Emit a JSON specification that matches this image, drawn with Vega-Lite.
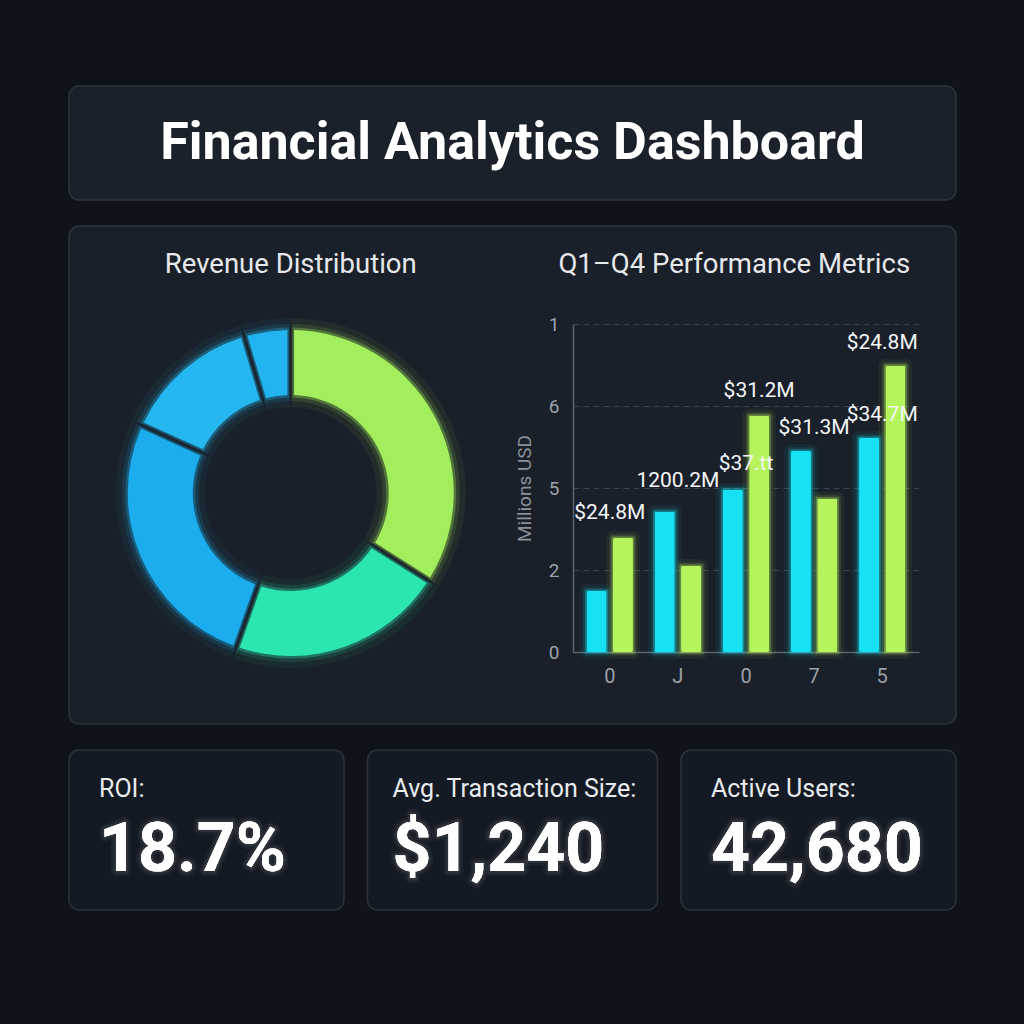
{
  "$schema": "https://vega.github.io/schema/vega-lite/v6.json",
  "background": "#0f141b",
  "padding": {"left": 68, "top": 85, "right": 69, "bottom": 115},
  "config": {
    "font": "Roboto",
    "view": {"stroke": null},
    "axis": {"labelFont": "Roboto", "titleFont": "Roboto"}
  },
  "bounds": "flush",
  "spacing": 26,
  "vconcat": [
    {
      "width": 887,
      "height": 114,
      "view": {"fill": "#1b212b", "stroke": "#2c333d", "strokeWidth": 1.5, "cornerRadius": 10},
      "data": {"values": [{"title": "Financial Analytics Dashboard"}]},
      "mark": {"type": "text", "fontSize": 52, "fontWeight": "bold", "color": "#ffffff", "baseline": "middle", "align": "center"},
      "encoding": {"text": {"field": "title", "type": "nominal"}}
    },
    {
      "width": 887,
      "height": 498,
      "view": {"fill": "#1a2029", "stroke": "#2c333d", "strokeWidth": 1.5, "cornerRadius": 10},
      "resolve": {
        "scale": {"x": "independent", "y": "independent", "color": "independent", "xOffset": "independent"},
        "axis": {"x": "independent", "y": "independent"}
      },
      "layer": [
        {
          "layer": [
            {
              "data": {"values": [
                {"segment": "Segment 1", "share": 34.0, "idx": 1},
                {"segment": "Segment 2", "share": 21.4, "idx": 2},
                {"segment": "Segment 3", "share": 26.4, "idx": 3},
                {"segment": "Segment 4", "share": 13.6, "idx": 4},
                {"segment": "Segment 5", "share": 4.6, "idx": 5}
              ]},
              "encoding": {
                "x": {"datum": "Revenue Distribution", "type": "nominal",
                  "scale": {"type": "point", "domain": ["Revenue Distribution", "Q1–Q4 Performance Metrics"], "padding": 0.5}, "axis": null},
                "y": {"datum": "chart", "type": "nominal",
                  "scale": {"type": "point", "domain": ["heading", "chart"], "padding": 0.59, "align": 0.143}, "axis": null},
                "theta": {"field": "share", "type": "quantitative", "stack": true},
                "order": {"field": "idx", "type": "quantitative"},
                "color": {"field": "segment", "type": "nominal", "legend": null,
                  "scale": {"domain": ["Segment 1", "Segment 2", "Segment 3", "Segment 4", "Segment 5"],
                            "range": ["#a3ee5c", "#2ce6b2", "#1cadee", "#25b7f0", "#21b4f0"]}}
              },
              "layer": [
                {"mark": {"type": "arc", "innerRadius": 86, "outerRadius": 175, "padAngle": 0.005, "opacity": 0.06}},
                {"mark": {"type": "arc", "innerRadius": 92, "outerRadius": 169, "padAngle": 0.01, "opacity": 0.12}},
                {"mark": {"type": "arc", "innerRadius": 95.5, "outerRadius": 165.5, "padAngle": 0.02, "opacity": 0.3}},
                {"mark": {"type": "arc", "innerRadius": 98, "outerRadius": 163, "padAngle": 0.035}}
              ]
            },
            {
              "data": {"values": [
                {"section": "Revenue Distribution", "row": "heading"},
                {"section": "Q1–Q4 Performance Metrics", "row": "heading"}
              ]},
              "mark": {"type": "text", "fontSize": 27.5, "color": "#e6e8eb", "baseline": "middle", "align": "center"},
              "encoding": {
                "x": {"field": "section", "type": "nominal"},
                "y": {"field": "row", "type": "nominal"},
                "text": {"field": "section", "type": "nominal"}
              }
            }
          ]
        },
        {
          "layer": [
            {
              "data": {"values": [
                {"group": "1", "series": "A", "value": 1.49},
                {"group": "1", "series": "B", "value": 2.78},
                {"group": "2", "series": "A", "value": 3.42},
                {"group": "2", "series": "B", "value": 2.10},
                {"group": "3", "series": "A", "value": 3.96},
                {"group": "3", "series": "B", "value": 5.76},
                {"group": "4", "series": "A", "value": 4.90},
                {"group": "4", "series": "B", "value": 3.74},
                {"group": "5", "series": "A", "value": 5.22},
                {"group": "5", "series": "B", "value": 6.98}
              ]},
              "encoding": {
                "x": {"field": "group", "type": "nominal",
                  "scale": {"domain": ["1", "2", "3", "4", "5"], "range": [504, 850], "paddingInner": 0.32, "paddingOuter": 0.2},
                  "axis": {"orient": "bottom", "offset": -72, "title": null, "labelAngle": 0, "domain": true, "domainColor": "#5a626c", "domainWidth": 1.5, "ticks": false,
                           "labelFontSize": 20, "labelColor": "#9aa1a9", "labelPadding": 14,
                           "labelExpr": "datum.value == '2' ? 'J' : datum.value == '4' ? '7' : datum.value == '5' ? '5' : '0'"}},
                "xOffset": {"field": "series", "type": "nominal", "scale": {"domain": ["A", "B"], "paddingInner": 0.24, "paddingOuter": 0}},
                "y": {"field": "value", "type": "quantitative",
                  "scale": {"domain": [0, 8], "range": [426, 98], "nice": false},
                  "axis": {"orient": "left", "offset": -504, "title": "Millions USD", "values": [0, 2, 4, 6, 8], "format": "d",
                           "labelExpr": "datum.value == 4 ? '5' : datum.value == 8 ? '1' : datum.label",
                           "grid": true, "gridDash": [6, 4], "gridColor": "#3a424c", "gridWidth": 1,
                           "domain": true, "domainColor": "#5a626c", "domainWidth": 1.5, "ticks": false,
                           "labelFontSize": 19, "labelColor": "#9aa1a9", "labelPadding": 14,
                           "titleFontSize": 19, "titleColor": "#8a9199", "titleFontWeight": "normal", "titlePadding": 14}},
                "color": {"field": "series", "type": "nominal", "legend": null,
                  "scale": {"domain": ["A", "B"], "range": ["#16e2f4", "#b5f45c"]}}
              },
              "layer": [
                {"mark": {"type": "bar", "filled": false, "strokeWidth": 14, "strokeOpacity": 0.06, "strokeJoin": "round"}},
                {"mark": {"type": "bar", "filled": false, "strokeWidth": 7, "strokeOpacity": 0.14, "strokeJoin": "round"}},
                {"mark": {"type": "bar", "filled": false, "strokeWidth": 3, "strokeOpacity": 0.35, "strokeJoin": "round"}},
                {"mark": {"type": "bar", "cornerRadius": 2}}
              ]
            },
            {
              "data": {"values": [
                {"group": "1", "pos": 3.40, "label": "$24.8M"},
                {"group": "2", "pos": 4.17, "label": "1200.2M"},
                {"group": "3", "pos": 4.58, "label": "$37.tt"},
                {"group": "4", "pos": 5.46, "label": "$31.3M"},
                {"group": "5", "pos": 5.78, "label": "$34.7M"},
                {"group": "5", "pos": 7.54, "label": "$24.8M"}
              ]},
              "mark": {"type": "text", "fontSize": 21, "color": "#f4f6f8", "baseline": "middle", "align": "center"},
              "encoding": {
                "x": {"field": "group", "type": "nominal", "bandPosition": 0.5},
                "y": {"field": "pos", "type": "quantitative"},
                "text": {"field": "label", "type": "nominal"}
              }
            },
            {
              "data": {"values": [
                {"group": "3", "series": "B", "pos": 6.37, "label": "$31.2M"}
              ]},
              "mark": {"type": "text", "fontSize": 21, "color": "#f4f6f8", "baseline": "middle", "align": "center"},
              "encoding": {
                "x": {"field": "group", "type": "nominal"},
                "xOffset": {"field": "series", "type": "nominal"},
                "y": {"field": "pos", "type": "quantitative"},
                "text": {"field": "label", "type": "nominal"}
              }
            }
          ]
        }
      ]
    },
    {
      "bounds": "flush",
      "spacing": 23.5,
      "hconcat": [
        {
          "width": 275,
          "height": 160,
          "view": {"fill": "#141a23", "stroke": "#2c333d", "strokeWidth": 1.5, "cornerRadius": 10},
          "data": {"values": [{"kind": "label", "text": "ROI:"}, {"kind": "value", "text": "18.7%"}]},
          "encoding": {
            "x": {"datum": "start", "type": "nominal", "scale": {"type": "point", "domain": ["start"], "padding": 0, "align": 0.109}, "axis": null},
            "y": {"field": "kind", "type": "nominal", "scale": {"type": "point", "domain": ["label", "value"], "padding": 0.78, "align": 0.395}, "axis": null},
            "text": {"field": "text", "type": "nominal"}
          },
          "layer": [
            {"transform": [{"filter": "datum.kind == 'label'"}], "mark": {"type": "text", "align": "left", "baseline": "middle", "fontSize": 25, "color": "#e8eaed"}},
            {"transform": [{"filter": "datum.kind == 'value'"}], "mark": {"type": "text", "align": "left", "baseline": "middle", "fontSize": 68, "fontWeight": "bold", "color": "#ffffff", "stroke": "#ffffff", "strokeWidth": 10, "strokeOpacity": 0.04, "strokeJoin": "round"}},
            {"transform": [{"filter": "datum.kind == 'value'"}], "mark": {"type": "text", "align": "left", "baseline": "middle", "fontSize": 68, "fontWeight": "bold", "color": "#ffffff", "stroke": "#ffffff", "strokeWidth": 5, "strokeOpacity": 0.07, "strokeJoin": "round"}},
            {"transform": [{"filter": "datum.kind == 'value'"}], "mark": {"type": "text", "align": "left", "baseline": "middle", "fontSize": 68, "fontWeight": "bold", "color": "#ffffff"}}
          ]
        },
        {
          "width": 290,
          "height": 160,
          "view": {"fill": "#141a23", "stroke": "#2c333d", "strokeWidth": 1.5, "cornerRadius": 10},
          "data": {"values": [{"kind": "label", "text": "Avg. Transaction Size:"}, {"kind": "value", "text": "$1,240"}]},
          "encoding": {
            "x": {"datum": "start", "type": "nominal", "scale": {"type": "point", "domain": ["start"], "padding": 0, "align": 0.086}, "axis": null},
            "y": {"field": "kind", "type": "nominal", "scale": {"type": "point", "domain": ["label", "value"], "padding": 0.78, "align": 0.395}, "axis": null},
            "text": {"field": "text", "type": "nominal"}
          },
          "layer": [
            {"transform": [{"filter": "datum.kind == 'label'"}], "mark": {"type": "text", "align": "left", "baseline": "middle", "fontSize": 25, "color": "#e8eaed"}},
            {"transform": [{"filter": "datum.kind == 'value'"}], "mark": {"type": "text", "align": "left", "baseline": "middle", "fontSize": 68, "fontWeight": "bold", "color": "#ffffff", "stroke": "#ffffff", "strokeWidth": 10, "strokeOpacity": 0.04, "strokeJoin": "round"}},
            {"transform": [{"filter": "datum.kind == 'value'"}], "mark": {"type": "text", "align": "left", "baseline": "middle", "fontSize": 68, "fontWeight": "bold", "color": "#ffffff", "stroke": "#ffffff", "strokeWidth": 5, "strokeOpacity": 0.07, "strokeJoin": "round"}},
            {"transform": [{"filter": "datum.kind == 'value'"}], "mark": {"type": "text", "align": "left", "baseline": "middle", "fontSize": 68, "fontWeight": "bold", "color": "#ffffff"}}
          ]
        },
        {
          "width": 275,
          "height": 160,
          "view": {"fill": "#141a23", "stroke": "#2c333d", "strokeWidth": 1.5, "cornerRadius": 10},
          "data": {"values": [{"kind": "label", "text": "Active Users:"}, {"kind": "value", "text": "42,680"}]},
          "encoding": {
            "x": {"datum": "start", "type": "nominal", "scale": {"type": "point", "domain": ["start"], "padding": 0, "align": 0.109}, "axis": null},
            "y": {"field": "kind", "type": "nominal", "scale": {"type": "point", "domain": ["label", "value"], "padding": 0.78, "align": 0.395}, "axis": null},
            "text": {"field": "text", "type": "nominal"}
          },
          "layer": [
            {"transform": [{"filter": "datum.kind == 'label'"}], "mark": {"type": "text", "align": "left", "baseline": "middle", "fontSize": 25, "color": "#e8eaed"}},
            {"transform": [{"filter": "datum.kind == 'value'"}], "mark": {"type": "text", "align": "left", "baseline": "middle", "fontSize": 68, "fontWeight": "bold", "color": "#ffffff", "stroke": "#ffffff", "strokeWidth": 10, "strokeOpacity": 0.04, "strokeJoin": "round"}},
            {"transform": [{"filter": "datum.kind == 'value'"}], "mark": {"type": "text", "align": "left", "baseline": "middle", "fontSize": 68, "fontWeight": "bold", "color": "#ffffff", "stroke": "#ffffff", "strokeWidth": 5, "strokeOpacity": 0.07, "strokeJoin": "round"}},
            {"transform": [{"filter": "datum.kind == 'value'"}], "mark": {"type": "text", "align": "left", "baseline": "middle", "fontSize": 68, "fontWeight": "bold", "color": "#ffffff"}}
          ]
        }
      ]
    }
  ]
}
